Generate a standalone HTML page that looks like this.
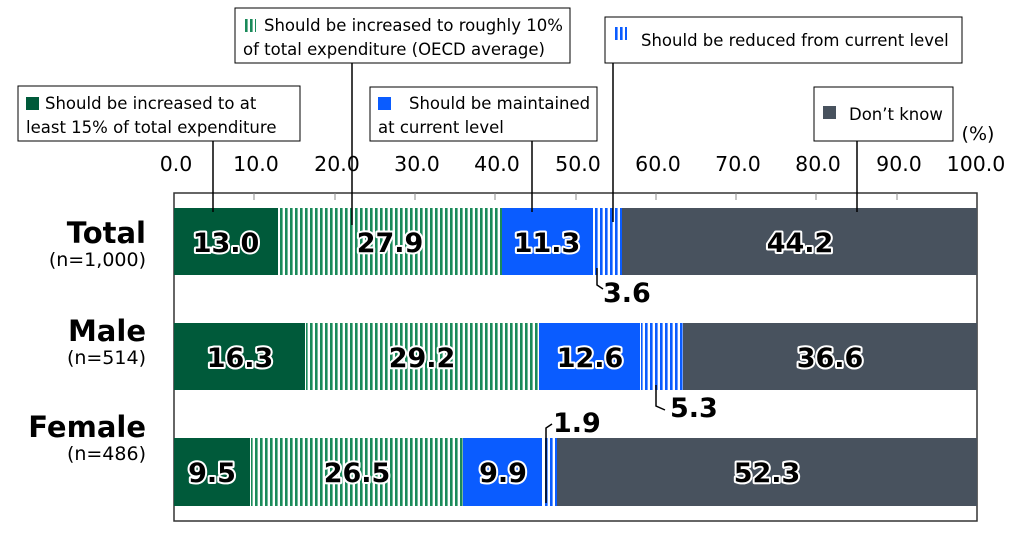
<!DOCTYPE html><html><head><style>body{margin:0;background:#fff}svg{display:block;font-family:"DejaVu Sans","Liberation Sans",sans-serif}</style></head><body>
<svg width="1024" height="543" viewBox="0 0 1024 543">
<defs>
<pattern id="g" width="5" height="10" patternUnits="userSpaceOnUse"><rect width="5" height="10" fill="#fff"/><rect width="2.6" height="10" fill="#1a8a5a"/></pattern>
<pattern id="b" width="5" height="10" patternUnits="userSpaceOnUse"><rect width="5" height="10" fill="#fff"/><rect width="2.6" height="10" fill="#0a5cff"/></pattern>
</defs>
<g font-size="20.5" fill="#000" text-anchor="middle">
<text x="176" y="171">0.0</text><text x="256" y="171">10.0</text><text x="337" y="171">20.0</text><text x="417" y="171">30.0</text><text x="497" y="171">40.0</text><text x="578" y="171">50.0</text><text x="658" y="171">60.0</text><text x="738" y="171">70.0</text><text x="818" y="171">80.0</text><text x="899" y="171">90.0</text><text x="976" y="171">100.0</text>
<text x="978" y="140" font-size="19">(%)</text>
</g>
<rect x="174" y="193" width="803" height="328" fill="none" stroke="#333" stroke-width="1.5"/>
<g stroke="#888" stroke-width="1">
<line x1="254" y1="193" x2="254" y2="200"/><line x1="335" y1="193" x2="335" y2="200"/><line x1="415" y1="193" x2="415" y2="200"/><line x1="495" y1="193" x2="495" y2="200"/><line x1="576" y1="193" x2="576" y2="200"/><line x1="656" y1="193" x2="656" y2="200"/><line x1="736" y1="193" x2="736" y2="200"/><line x1="816" y1="193" x2="816" y2="200"/><line x1="897" y1="193" x2="897" y2="200"/>
</g>
<g>
<rect x="174" y="208" width="104" height="67" fill="#005a3a"/><rect x="279" y="208" width="223" height="67" fill="url(#g)"/><rect x="502" y="208" width="91" height="67" fill="#0a5cff"/><rect x="594" y="208" width="28" height="67" fill="url(#b)"/><rect x="622" y="208" width="355" height="67" fill="#48525e"/>
<rect x="174" y="323" width="131" height="67" fill="#005a3a"/><rect x="306" y="323" width="233" height="67" fill="url(#g)"/><rect x="539" y="323" width="101" height="67" fill="#0a5cff"/><rect x="641" y="323" width="42" height="67" fill="url(#b)"/><rect x="683" y="323" width="294" height="67" fill="#48525e"/>
<rect x="174" y="438" width="76" height="68" fill="#005a3a"/><rect x="251" y="438" width="212" height="68" fill="url(#g)"/><rect x="463" y="438" width="79" height="68" fill="#0a5cff"/><rect x="543" y="438" width="14" height="68" fill="url(#b)"/><rect x="557" y="438" width="420" height="68" fill="#48525e"/>
</g>
<g font-size="27" font-weight="bold" text-anchor="middle" fill="#000" stroke="#fff" stroke-width="4" paint-order="stroke" stroke-linejoin="round">
<text x="226" y="252">13.0</text><text x="390" y="252">27.9</text><text x="547" y="252">11.3</text><text x="800" y="252">44.2</text>
<text x="240" y="367">16.3</text><text x="422" y="367">29.2</text><text x="590" y="367">12.6</text><text x="830" y="367">36.6</text>
<text x="212" y="482">9.5</text><text x="357" y="482">26.5</text><text x="503" y="482">9.9</text><text x="767" y="482">52.3</text>
</g>
<g font-size="27" font-weight="bold" fill="#000">
<text x="603" y="302">3.6</text><text x="670" y="417">5.3</text><text x="553" y="432">1.9</text>
</g>
<g stroke="#000" stroke-width="1.5" fill="none">
<polyline points="597,268 597,285 603,289"/><polyline points="656,385 656,406 665,410"/><polyline points="546,503 546,428 552,424"/>
<line x1="213" y1="141" x2="213" y2="212"/><line x1="352" y1="63" x2="352" y2="225"/><line x1="532" y1="141" x2="532" y2="212"/><line x1="613" y1="63" x2="613" y2="222"/><line x1="857" y1="141" x2="857" y2="212"/>
</g>
<g stroke="#000" stroke-width="1" fill="#fff">
<rect x="18" y="86" width="282" height="55"/><rect x="235" y="8" width="335" height="55"/><rect x="370" y="87" width="227" height="54"/><rect x="605" y="17" width="357" height="46"/><rect x="814" y="87" width="139" height="54"/>
</g>
<rect x="26" y="97" width="13" height="13" fill="#005a3a"/>
<rect x="243" y="19" width="13" height="13" fill="url(#g)"/>
<rect x="378" y="97" width="13" height="13" fill="#0a5cff"/>
<rect x="614" y="27" width="13" height="13" fill="url(#b)"/>
<rect x="823" y="106" width="13" height="13" fill="#48525e"/>
<g font-size="16.5" fill="#000">
<text x="45" y="109">Should be increased to at</text><text x="26" y="133">least 15% of total expenditure</text>
<text x="264" y="31">Should be increased to roughly 10%</text><text x="243" y="55">of total expenditure (OECD average)</text>
<text x="409" y="109">Should be maintained</text><text x="378" y="133">at current level</text>
<text x="641" y="46">Should be reduced from current level</text>
<text x="849" y="120">Don’t know</text>
</g>
<g text-anchor="end" fill="#000">
<text x="146" y="243" font-size="29" font-weight="bold">Total</text><text x="146" y="266" font-size="19">(n=1,000)</text>
<text x="146" y="341" font-size="29" font-weight="bold">Male</text><text x="146" y="364" font-size="19">(n=514)</text>
<text x="146" y="437" font-size="29" font-weight="bold">Female</text><text x="146" y="460" font-size="19">(n=486)</text>
</g>
</svg>
</body></html>
